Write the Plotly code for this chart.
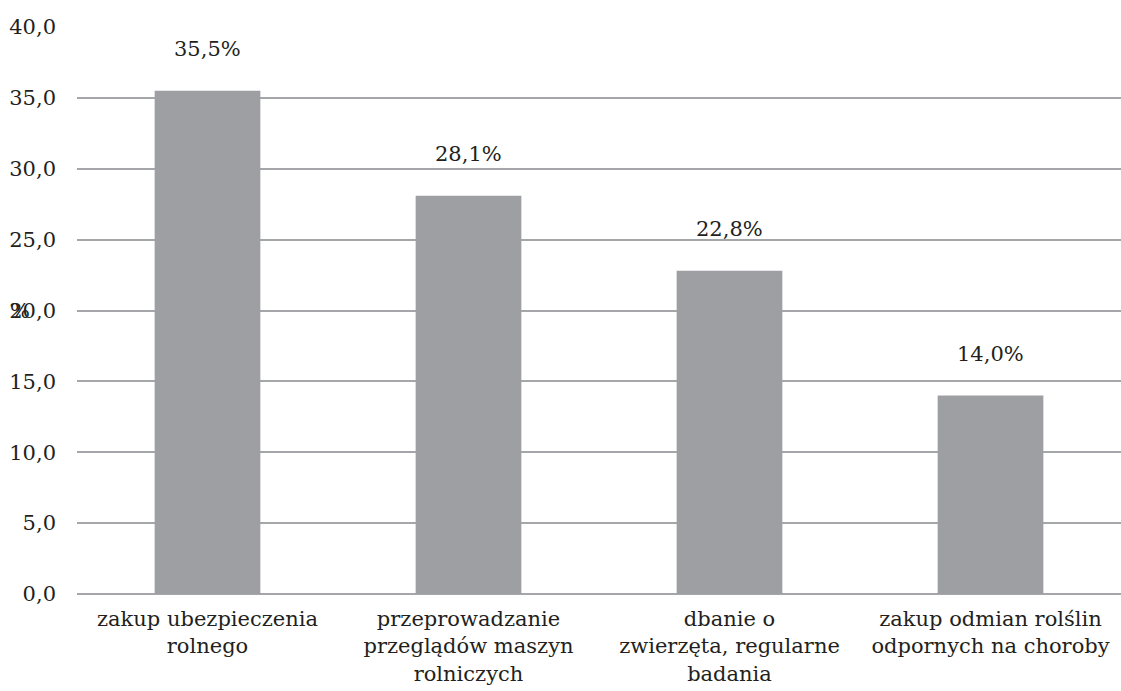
import plotly.graph_objects as go

categories = [
    "zakup ubezpieczenia<br>rolnego",
    "przeprowadzanie<br>przeglądów maszyn<br>rolniczych",
    "dbanie o<br>zwierzęta, regularne<br>badania",
    "zakup odmian rolślin<br>odpornych na choroby",
]
values = [35.5, 28.1, 22.8, 14.0]
value_labels = ["35,5%", "28,1%", "22,8%", "14,0%"]
y_ticks = [0, 5, 10, 15, 20, 25, 30, 35, 40]

FONT = dict(family="DejaVu Serif", size=21, color="#231f20")
BAR = "#9d9fa2"
GRID = "#a4a6a9"

fig = go.Figure(
    go.Bar(
        x=categories,
        y=values,
        marker=dict(color=BAR, line=dict(width=0)),
        width=0.405,
        hoverinfo="skip",
    )
)

for cat, val, lab in zip(categories, values, value_labels):
    fig.add_annotation(
        x=cat, y=val, text=lab, showarrow=False,
        yanchor="middle", yshift=42, font=FONT,
    )

# axis unit label drawn upright next to the tick labels
fig.add_annotation(
    xref="paper", yref="y", x=-0.055, y=20, text="%",
    showarrow=False, xanchor="center", yanchor="middle", font=FONT,
)

fig.update_layout(
    width=1121, height=691,
    margin=dict(l=77, r=0, t=27, b=97),
    paper_bgcolor="white", plot_bgcolor="white",
    separators=", ",
    font=FONT,
    showlegend=False,
    bargap=0.6,
    xaxis=dict(showgrid=False, showline=False, ticks="", tickfont=FONT,
               ticklabelstandoff=10),
    yaxis=dict(
        range=[0, 40], tickvals=y_ticks, tickformat=".1f",
        showgrid=True, gridcolor=GRID, gridwidth=2,
        zeroline=True, zerolinecolor=GRID, zerolinewidth=2,
        showline=False, ticks="", tickfont=FONT, ticklabelstandoff=20,
    ),
)

fig.write_html("out.html")
